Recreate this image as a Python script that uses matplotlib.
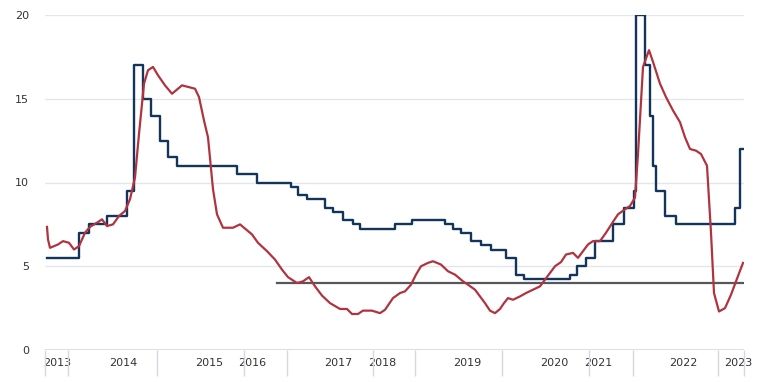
import matplotlib.pyplot as plt
import numpy as np

# x positions are category-axis positions (0 = start of axis, 699 = end)
# key rate: position where a new rate starts, and the rate
rate_pos = [2, 34, 44, 62, 82, 89, 98, 106, 115, 123, 132, 192, 212, 246, 253,
            262, 280, 288, 298, 308, 315, 350, 367, 400, 408, 416, 426, 436, 446,
            461, 471, 479, 525, 532, 541, 550, 568, 579, 589, 591, 600, 605, 608,
            611, 620, 631, 690, 695, 699]
rate_val = [5.5, 7.0, 7.5, 8.0, 9.5, 17.0, 15.0, 14.0, 12.5, 11.5, 11.0, 10.5, 10.0,
            9.75, 9.25, 9.0, 8.5, 8.25, 7.75, 7.5, 7.25, 7.5, 7.75, 7.5, 7.25, 7.0,
            6.5, 6.25, 6.0, 5.5, 4.5, 4.25, 4.5, 5.0, 5.5, 6.5, 7.5, 8.5, 9.5, 20.0,
            17.0, 14.0, 11.0, 9.5, 8.0, 7.5, 8.5, 12.0, 12.0]

# inflation, y/y %
infl_pos = [2, 3, 5, 13, 18, 24, 29, 34, 40, 45, 52, 57, 62, 68, 74, 80, 85, 90, 94,
            99, 103, 108, 113, 120, 127, 137, 150, 154, 159, 163, 168, 172, 178,
            188, 195, 207, 213, 222, 230, 237, 243, 252, 258, 264, 270, 277, 285,
            295, 302, 307, 313, 318, 327, 335, 340, 348, 355, 360, 366, 371, 376,
            383, 388, 396, 403, 410, 418, 423, 430, 435, 440, 445, 450, 455, 459,
            463, 468, 475, 481, 488, 495, 500, 505, 510, 516, 521, 528, 533, 538,
            543, 548, 555, 561, 568, 573, 580, 585, 590, 593, 598, 604, 608, 615,
            621, 628, 635, 640, 645, 651, 656, 662, 666, 669, 674, 680, 686, 691,
            698]
infl_val = [7.35, 6.6, 6.1, 6.3, 6.5, 6.4, 6.0, 6.2, 7.0, 7.35, 7.6, 7.8, 7.4, 7.5,
            8.0, 8.3, 9.0, 10.3, 12.9, 15.9, 16.7, 16.9, 16.4, 15.8, 15.3, 15.8,
            15.6, 15.1, 13.7, 12.7, 9.6, 8.1, 7.3, 7.3, 7.5, 6.9, 6.4, 5.9, 5.4,
            4.8, 4.35, 4.0, 4.1, 4.35, 3.8, 3.25, 2.8, 2.45, 2.45, 2.15, 2.15, 2.35,
            2.35, 2.2, 2.4, 3.1, 3.4, 3.5, 3.9, 4.5, 5.0, 5.2, 5.3, 5.1, 4.7, 4.5,
            4.1, 3.9, 3.6, 3.2, 2.8, 2.35, 2.2, 2.45, 2.8, 3.1, 3.0, 3.2, 3.4, 3.6,
            3.8, 4.2, 4.6, 5.0, 5.25, 5.7, 5.8, 5.5, 5.9, 6.3, 6.5, 6.5, 7.0, 7.65,
            8.1, 8.4, 8.6, 9.1, 11.7, 16.9, 17.9, 17.2, 15.9, 15.1, 14.3, 13.6, 12.7,
            12.0, 11.9, 11.7, 11.0, 7.0, 3.4, 2.3, 2.5, 3.3, 4.1, 5.2]

target = 4.0
target_start = 232

year_labels = ['2013', '2014', '2015', '2016', '2017', '2018', '2019', '2020',
               '2021', '2022', '2023']
year_pos = [12, 78, 164, 207, 293, 337, 422, 509, 553, 638, 693]
sep_pos = [0, 23, 112, 199, 242, 328, 370, 457, 544, 588, 673, 699]

fig = plt.figure(figsize=(7.58, 3.82), dpi=100)
ax = fig.add_axes([45/758, 1 - 350/382, 699/758, 335/382])

ax.grid(axis='y', color='#e3e6ea', lw=1)
ax.set_axisbelow(True)
ax.plot([target_start, 699], [target, target], color='#55575c', lw=1.6)
ax.step(rate_pos, rate_val, where='post', color='#13355c', lw=1.7)
ax.plot(infl_pos, infl_val, color='#b0343f', lw=1.6)

ax.set_xlim(0, 699)
ax.set_ylim(0, 20)
ax.set_yticks([0, 5, 10, 15, 20])
for s in ax.spines.values():
    s.set_visible(False)
ax.axhline(0, color='#d5d9de', lw=1.2)

ax.set_xticks(year_pos)
ax.set_xticklabels(year_labels)
ax.set_xticks(sep_pos, minor=True)
ax.tick_params(axis='x', which='major', length=0, pad=6, labelsize=8, labelcolor='#333333')
ax.tick_params(axis='x', which='minor', length=19, color='#d5d9de', width=1)
ax.tick_params(axis='y', length=0, pad=11.5, labelsize=8, labelcolor='#333333')

plt.savefig('out.png', dpi=100)
